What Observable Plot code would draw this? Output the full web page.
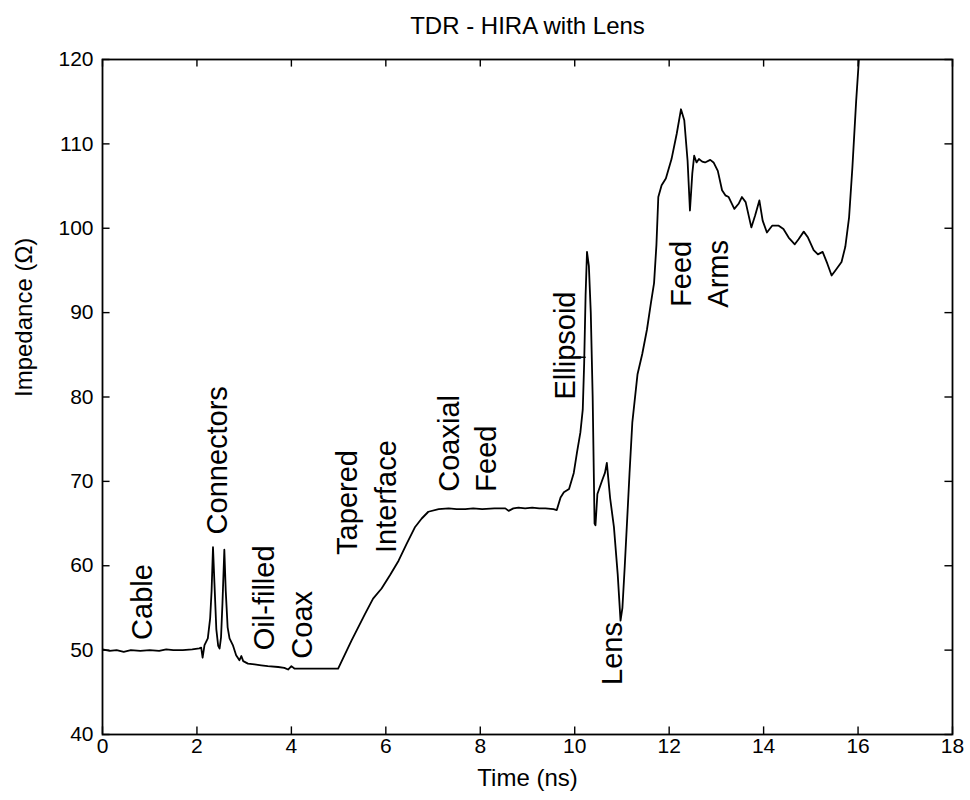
<!DOCTYPE html>
<html>
<head>
<meta charset="utf-8">
<script src="https://cdn.jsdelivr.net/npm/d3@7"></script>
<script src="https://cdn.jsdelivr.net/npm/@observablehq/plot@0.6"></script>
<style>
  body { margin: 0; background: #fff; }
  #chart svg { display: block; }
</style>
</head>
<body>
<div id="chart"></div>
<script>
// ---- Data ----
const timeNs = [
  0.00, 0.15, 0.30, 0.45, 0.60, 0.80, 1.00, 1.20, 1.35, 1.50, 1.70, 1.90, 2.05, 2.09, 2.12, 2.16,
  2.23, 2.28, 2.31, 2.34, 2.37, 2.41, 2.45, 2.48, 2.51, 2.54, 2.58, 2.61, 2.65, 2.69, 2.76, 2.83,
  2.90, 2.94, 2.98, 3.08, 3.22, 3.36, 3.50, 3.72, 3.85, 3.93, 4.00, 4.07, 4.20, 4.60, 4.99, 5.27,
  5.56, 5.73, 5.91, 6.09, 6.27, 6.44, 6.62, 6.76, 6.90, 7.12, 7.33, 7.50, 7.68, 7.85, 8.04, 8.30,
  8.53, 8.60, 8.70, 8.81, 8.95, 9.10, 9.25, 9.38, 9.55, 9.62, 9.70, 9.77, 9.88, 9.98, 10.05, 10.12,
  10.17, 10.20, 10.23, 10.26, 10.30, 10.34, 10.38, 10.42, 10.44, 10.48, 10.53, 10.58, 10.64, 10.68, 10.75, 10.83,
  10.91, 10.97, 11.01, 11.06, 11.12, 11.16, 11.22, 11.33, 11.43, 11.53, 11.61, 11.68, 11.73, 11.77, 11.84, 11.93,
  12.05, 12.16, 12.25, 12.32, 12.39, 12.44, 12.49, 12.53, 12.58, 12.63, 12.70, 12.76, 12.87, 12.94, 13.03, 13.12,
  13.19, 13.26, 13.38, 13.47, 13.54, 13.62, 13.74, 13.82, 13.91, 13.98, 14.07, 14.18, 14.32, 14.42, 14.53, 14.66,
  14.74, 14.85, 14.94, 15.06, 15.15, 15.25, 15.35, 15.44, 15.52, 15.65, 15.73, 15.81, 15.88, 15.96, 16.03
];
const impedanceOhm = [
  50.1, 49.9, 50.0, 49.8, 50.0, 49.9, 50.0, 49.9, 50.1, 50.0, 50.0, 50.1, 50.2, 50.3, 49.1, 50.6,
  51.4, 53.8, 57.0, 62.2, 58.0, 52.5, 50.5, 50.2, 51.5, 55.5, 61.9, 57.0, 52.7, 51.4, 50.6, 49.4,
  48.8, 49.3, 48.7, 48.4, 48.3, 48.2, 48.1, 48.0, 47.9, 47.7, 48.1, 47.8, 47.8, 47.8, 47.8, 51.1,
  54.3, 56.1, 57.3, 58.9, 60.6, 62.6, 64.6, 65.6, 66.4, 66.7, 66.8, 66.7, 66.7, 66.8, 66.7, 66.8,
  66.8, 66.5, 66.8, 66.9, 66.8, 66.9, 66.8, 66.8, 66.7, 66.6, 68.1, 68.7, 69.1, 71.0, 73.5, 75.8,
  78.5, 84.0, 92.0, 97.2, 95.5, 90.0, 80.0, 65.0, 64.8, 68.5, 69.3, 70.1, 71.0, 72.2, 68.0, 64.6,
  59.0, 53.5, 55.0, 60.0, 66.5, 70.9, 77.0, 82.7, 85.1, 88.0, 91.0, 93.5, 98.0, 103.7, 105.1, 105.9,
  108.2, 111.2, 114.1, 112.8, 108.0, 102.1, 106.5, 108.6, 107.8, 108.2, 107.9, 107.8, 108.1, 107.8, 106.8, 104.5,
  103.9, 103.7, 102.3, 102.9, 103.7, 103.1, 100.1, 101.5, 103.3, 100.9, 99.5, 100.3, 100.3, 99.9, 98.9, 98.1,
  98.7, 99.6, 98.9, 97.4, 96.9, 97.2, 95.8, 94.4, 95.0, 96.0, 97.8, 101.3, 107.2, 115.1, 121.0
];

const labelText = ["Cable", "Connectors", "Oil-filled", "Coax", "Tapered", "Interface", "Coaxial", "Feed", "Ellipsoid", "Lens", "Feed", "Arms"];
const labelTime = [0.85, 2.45, 3.43, 4.25, 5.20, 6.02, 7.36, 8.14, 9.81, 10.80, 12.26, 13.05];
const labelOhm  = [55.7, 72.5, 56.2, 53.0, 67.5, 68.2, 74.5, 72.7, 86.1, 49.6, 94.6, 94.6];

const leaderTime = [10.02, 10.22];
const leaderOhm  = [84.7, 84.7];

const xTicks = [0, 2, 4, 6, 8, 10, 12, 14, 16, 18];
const yTicks = [40, 50, 60, 70, 80, 90, 100, 110, 120];

const titleText = "TDR - HIRA with Lens";
const xLabel = "Time (ns)";
const yLabel = "Impedance (\u03A9)";

// ---- Build tables ----
const curve = timeNs.map((t, i) => ({t, z: impedanceOhm[i]}));
const labels = labelText.map((s, i) => ({s, t: labelTime[i], z: labelOhm[i]}));
const leader = leaderTime.map((t, i) => ({t, z: leaderOhm[i]}));

const font = "Arial, 'Liberation Sans', Helvetica, sans-serif";

const chart = Plot.plot({
  width: 970,
  height: 800,
  marginLeft: 102,
  marginRight: 18,
  marginTop: 59,
  marginBottom: 66,
  style: {fontFamily: font, fontSize: "21px", color: "#000", background: "#fff"},
  x: {domain: [0, 18]},
  y: {domain: [40, 120]},
  marks: [
    Plot.axisX(xTicks, {tickSize: 0, tickPadding: 4, label: null, fontSize: 21}),
    Plot.axisY(yTicks, {tickSize: 0, tickPadding: 9, label: null, fontSize: 21}),
    // inward ticks on all four sides
    Plot.ruleX(xTicks, {x: d => d, y1: 40, y2: 40.9, stroke: "#000", strokeWidth: 1.4}),
    Plot.ruleX(xTicks, {x: d => d, y1: 120, y2: 119.1, stroke: "#000", strokeWidth: 1.4}),
    Plot.ruleY(yTicks, {y: d => d, x1: 0, x2: 0.16, stroke: "#000", strokeWidth: 1.4}),
    Plot.ruleY(yTicks, {y: d => d, x1: 18, x2: 17.84, stroke: "#000", strokeWidth: 1.4}),
    Plot.frame({stroke: "#000", strokeWidth: 1.8}),
    Plot.line(curve, {x: "t", y: "z", stroke: "#000", strokeWidth: 1.8, clip: true, curve: "linear"}),
    Plot.line(leader, {x: "t", y: "z", stroke: "#000", strokeWidth: 1.5}),
    Plot.text(labels, {x: "t", y: "z", text: "s", rotate: -90, fontSize: 29, fill: "#000", textAnchor: "middle", lineAnchor: "middle"}),
    // title and axis labels
    Plot.text([titleText], {frameAnchor: "top", dy: -33, fontSize: 24, fill: "#000", lineAnchor: "middle"}),
    Plot.text([xLabel], {frameAnchor: "bottom", dy: 44, fontSize: 24, fill: "#000", lineAnchor: "middle"}),
    Plot.text([yLabel], {frameAnchor: "left", dx: -78, rotate: -90, fontSize: 24, fill: "#000", lineAnchor: "middle"})
  ]
});
document.getElementById("chart").appendChild(chart);
</script>
</body>
</html>
